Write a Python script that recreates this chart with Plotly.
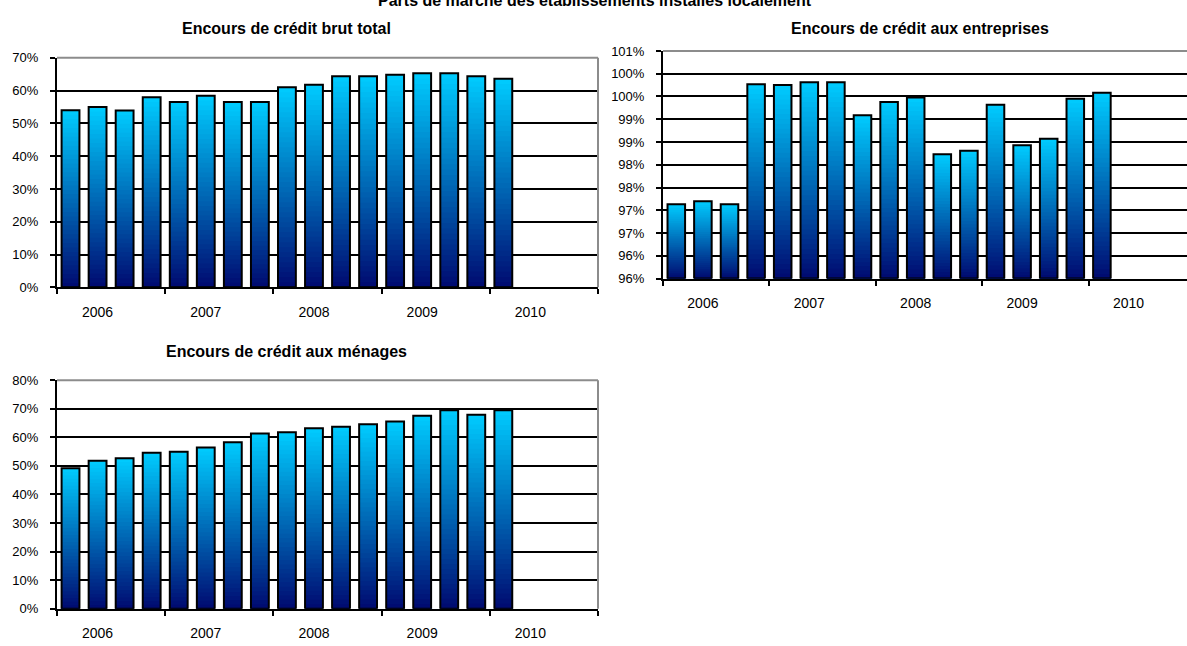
import plotly.graph_objects as go

# ---- data ----
quarters = ["2006T1", "2006T2", "2006T3", "2006T4",
            "2007T1", "2007T2", "2007T3", "2007T4",
            "2008T1", "2008T2", "2008T3", "2008T4",
            "2009T1", "2009T2", "2009T3", "2009T4",
            "2010T1"]
years = ["2006", "2007", "2008", "2009", "2010"]

credit_total = [0.540, 0.550, 0.539, 0.580, 0.565, 0.584, 0.565, 0.565, 0.610,
                0.618, 0.644, 0.644, 0.648, 0.653, 0.653, 0.644, 0.636]
credit_entreprises = [0.9763, 0.9770, 0.9763, 1.0027, 1.0025, 1.0031, 1.0031, 0.9959,
                      0.9988, 0.9998, 0.9873, 0.9881, 0.9982, 0.9893, 0.9907, 0.9995, 1.0008]
credit_menages = [0.492, 0.518, 0.527, 0.546, 0.549, 0.564, 0.583, 0.613, 0.618,
                  0.632, 0.637, 0.646, 0.655, 0.675, 0.695, 0.679, 0.695]

ent_ticks = [0.96, 0.965, 0.97, 0.975, 0.98, 0.985, 0.99, 0.995, 1.0, 1.005, 1.01]
ent_ticktext = ["96%", "96%", "97%", "97%", "98%", "98%", "99%", "99%", "100%", "100%", "101%"]

main_title = "Parts de marché des établissements installés localement"
titles = ["Encours de crédit brut total", "Encours de crédit aux entreprises",
          "Encours de crédit aux ménages"]

# ---- styling ----
W, H = 1187, 646
FONT = "Liberation Sans, Arial, sans-serif"
TOP = (0, 204, 255)
BOT = (0, 10, 112)
NSEG = 40
BAR_W = 0.66

fig = go.Figure()
xpos = list(range(len(quarters)))


def seg_color(t):
    r = [int(round(BOT[k] + (TOP[k] - BOT[k]) * t)) for k in range(3)]
    return f"rgb({r[0]},{r[1]},{r[2]})"


def add_chart(n, values, floor):
    xa = "x" if n == 1 else f"x{n}"
    ya = "y" if n == 1 else f"y{n}"
    # gradient: nested bars from the full height downwards, each drawn over the previous
    for k in range(NSEG):
        frac = (NSEG - k) / NSEG
        t = (NSEG - k - 0.5) / NSEG
        fig.add_trace(go.Bar(
            x=xpos,
            y=[(v - floor) * frac for v in values],
            base=[floor] * len(values),
            width=BAR_W,
            marker=dict(color=seg_color(t), line=dict(width=0)),
            xaxis=xa, yaxis=ya, showlegend=False, hoverinfo="skip"))
    fig.add_trace(go.Bar(
        x=xpos,
        y=[v - floor for v in values],
        base=[floor] * len(values),
        width=BAR_W,
        customdata=quarters,
        marker=dict(color="rgba(0,0,0,0)", line=dict(color="black", width=2)),
        xaxis=xa, yaxis=ya, showlegend=False,
        hovertemplate="%{customdata}<extra></extra>"))


add_chart(1, credit_total, 0.0)
add_chart(2, credit_entreprises, 0.96)
add_chart(3, credit_menages, 0.0)


def px_x(p):
    return p / W


def px_y(p):
    return 1 - p / H


def xaxis_cfg(left, right, rng_hi, anchor):
    return dict(
        domain=[px_x(left), right], range=[-0.5, rng_hi], anchor=anchor,
        tickmode="array", tickvals=[1, 5, 9, 13, 17], ticktext=years,
        ticks="", showgrid=False, zeroline=False,
        showline=True, linecolor="black", linewidth=2,
        tickfont=dict(family=FONT, size=14, color="black"),
        ticklabelstandoff=11,
        minor=dict(tickmode="linear", tick0=-0.5, dtick=4, ticks="outside",
                   ticklen=5, tickwidth=2, tickcolor="black", showgrid=False),
        fixedrange=True)


def yaxis_cfg(top, bottom, rng, anchor, dtick=None, tickvals=None, ticktext=None):
    d = dict(
        domain=[px_y(bottom), px_y(top)], range=rng, anchor=anchor,
        showgrid=True, gridcolor="black", gridwidth=2, zeroline=False,
        showline=True, linecolor="black", linewidth=2,
        ticks="outside", ticklen=5, tickwidth=2, tickcolor="black",
        tickfont=dict(family=FONT, size=13, color="black"),
        ticklabelstandoff=9, fixedrange=True)
    if tickvals is not None:
        d.update(tickmode="array", tickvals=tickvals, ticktext=ticktext)
    else:
        d.update(tickmode="linear", tick0=0, dtick=dtick, tickformat=".0%")
    return d


# chart geometry (pixels)
c1 = dict(left=57, right=598, top=52, bottom=287)
c2 = dict(left=663, right=W, top=45, bottom=278)
c3 = dict(left=57, right=598, top=382, bottom=616)

slot2 = 26.6
hi2 = -0.5 + (c2["right"] - c2["left"]) / slot2

fig.update_layout(
    width=W, height=H,
    margin=dict(l=0, r=0, t=0, b=0),
    paper_bgcolor="white", plot_bgcolor="white",
    barmode="overlay",
    font=dict(family=FONT, color="black"),
    xaxis=xaxis_cfg(c1["left"], px_x(c1["right"]), 19.5, "y"),
    yaxis=yaxis_cfg(c1["top"], c1["bottom"], [0, 0.7], "x", dtick=0.1),
    xaxis2=xaxis_cfg(c2["left"], 1.0, hi2, "y2"),
    yaxis2=yaxis_cfg(c2["top"], c2["bottom"], [0.96, 1.01], "x2",
                     tickvals=ent_ticks, ticktext=ent_ticktext),
    xaxis3=xaxis_cfg(c3["left"], px_x(c3["right"]), 19.5, "y3"),
    yaxis3=yaxis_cfg(c3["top"], c3["bottom"], [0, 0.8], "x3", dtick=0.1),
)

# plot-area borders (grey top / right), as in the original spreadsheet chart
GREY = "#8c8c8c"
for xr, yr, right in [("x", "y", True), ("x2", "y2", False), ("x3", "y3", True)]:
    fig.add_shape(type="line", xref=f"{xr} domain", yref=f"{yr} domain",
                  x0=0, x1=1, y0=1, y1=1, line=dict(color=GREY, width=2), layer="above")
    if right:
        fig.add_shape(type="line", xref=f"{xr} domain", yref=f"{yr} domain",
                      x0=1, x1=1, y0=0, y1=1, line=dict(color=GREY, width=2), layer="above")

# main title, partly cut by the top edge as in the original
fig.add_annotation(text=f"<b>{main_title}</b>", x=px_x(595), y=1,
                   xref="paper", yref="paper", xanchor="center", yanchor="bottom",
                   yshift=-4, showarrow=False,
                   font=dict(family=FONT, size=16, color="black"))

# sub-chart titles
ann = [
    (titles[0], 286, 22, 16),
    (titles[1], 920, 22, 16),
    (titles[2], 286, 353, 16),
]
for text, x, y, size in ann:
    fig.add_annotation(text=f"<b>{text}</b>", x=px_x(x), y=px_y(y),
                       xref="paper", yref="paper", xanchor="center", yanchor="middle",
                       showarrow=False, font=dict(family=FONT, size=size, color="black"))

fig.write_html("out.html",
               config={"displayModeBar": False},
               post_script="document.body.style.margin='0px';"
                           "document.body.style.overflow='hidden';")
